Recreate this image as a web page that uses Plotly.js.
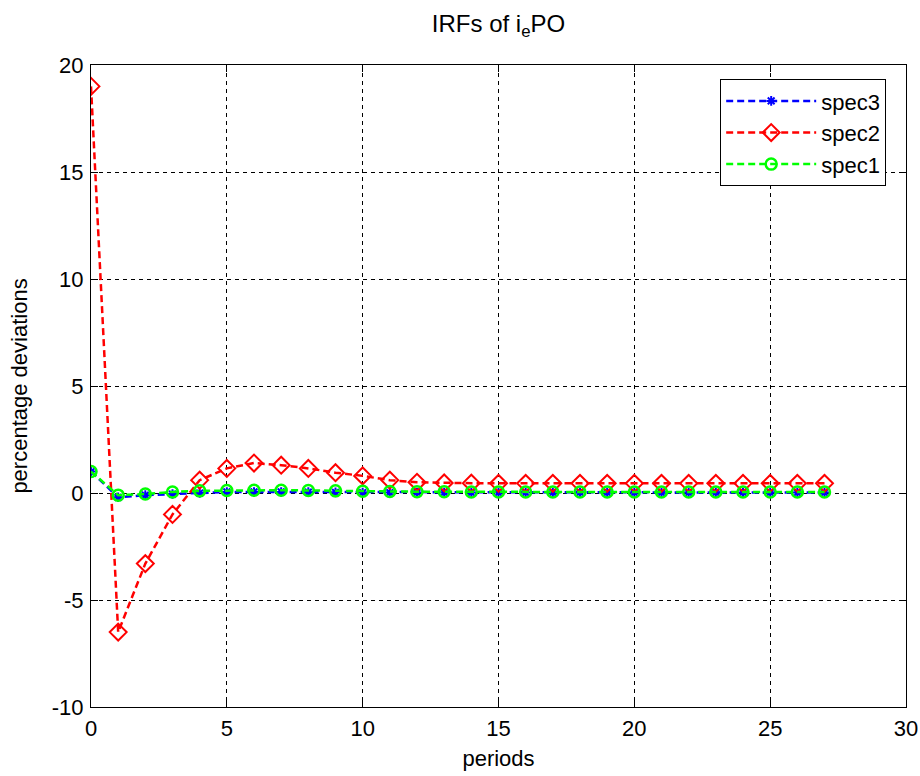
<!DOCTYPE html>
<html>
<head>
<meta charset="utf-8">
<script src="https://cdn.plot.ly/plotly-3.0.1.min.js"></script>
<style>html,body{margin:0;padding:0;background:#fff;}</style>
</head>
<body>
<div id="chart" style="width:920px;height:776px;"></div>
<script>
const periods = [0,1,2,3,4,5,6,7,8,9,10,11,12,13,14,15,16,17,18,19,20,21,22,23,24,25,26,27];
const spec3 = [1.0,-0.2,-0.1,-0.05,0.0,0.05,0.05,0.05,0.04,0.03,0.02,0.02,0.02,0.02,0.02,0.02,0.02,0.02,0.02,0.02,0.02,0.02,0.02,0.02,0.02,0.02,0.02,0.02];
const spec2 = [19.0,-6.5,-3.3,-1.0,0.6,1.15,1.4,1.3,1.15,0.95,0.8,0.6,0.5,0.47,0.46,0.45,0.45,0.45,0.45,0.45,0.45,0.45,0.45,0.45,0.45,0.45,0.45,0.45];
const spec1 = [1.0,-0.1,-0.05,0.05,0.1,0.12,0.13,0.13,0.12,0.1,0.08,0.07,0.06,0.06,0.05,0.05,0.05,0.05,0.05,0.05,0.05,0.05,0.05,0.05,0.05,0.05,0.05,0.05];
const xTicks = [0,5,10,15,20,25,30];
const yTicks = [-10,-5,0,5,10,15,20];

const font = 'Liberation Sans, Arial, sans-serif';
const fs = 22;
const traces = [
  {x: periods, y: spec3, name: 'spec3', mode: 'lines+markers', type: 'scatter',
   line: {color: '#0000ff', width: 2.5, dash: '7px,4px'},
   marker: {symbol: 'asterisk-open', size: 8, color: '#0000ff', line: {color: '#0000ff', width: 2}}},
  {x: periods, y: spec2, name: 'spec2', mode: 'lines+markers', type: 'scatter',
   line: {color: '#ff0000', width: 2.5, dash: '7px,4px'},
   marker: {symbol: 'diamond-open', size: 13, color: '#ff0000', line: {color: '#ff0000', width: 2}}},
  {x: periods, y: spec1, name: 'spec1', mode: 'lines+markers', type: 'scatter',
   line: {color: '#00ff00', width: 2.5, dash: '7px,4px'},
   marker: {symbol: 'circle-open', size: 11, color: '#00ff00', line: {color: '#00ff00', width: 2.5}}}
];

const axisCommon = {
  showline: true, linecolor: '#000', linewidth: 1, mirror: 'ticks',
  ticks: 'inside', ticklen: 7, tickcolor: '#000',
  showgrid: true, gridcolor: '#000', gridwidth: 1, griddash: '4px,4px',
  zeroline: false, tickfont: {family: font, size: fs, color: '#000'}
};

const layout = {
  width: 920, height: 776,
  paper_bgcolor: '#fff', plot_bgcolor: '#fff',
  margin: {l: 91, r: 14, t: 65, b: 69},
  title: {text: 'IRFs of i<sub>e</sub>PO', font: {family: font, size: 24, color: '#000'},
    xref: 'paper', x: 0.5, xanchor: 'center', yref: 'container', y: 0.97, yanchor: 'middle'},
  xaxis: Object.assign({}, axisCommon, {range: [0, 30], tickvals: xTicks, ticktext: xTicks.map(String),
    ticklabelstandoff: 2,
    title: {text: 'periods', font: {family: font, size: fs, color: '#000'}, standoff: 10}}),
  yaxis: Object.assign({}, axisCommon, {range: [-10, 20], tickvals: yTicks, ticktext: yTicks.map(String),
    ticklabelstandoff: 2,
    title: {text: 'percentage deviations', font: {family: font, size: fs, color: '#000'}, standoff: 18}}),
  legend: {x: 0.772, y: 0.978, xanchor: 'left', yanchor: 'top', bgcolor: '#fff',
    bordercolor: '#000', borderwidth: 1, font: {family: font, size: fs, color: '#000'},
    itemwidth: 90, tracegroupgap: 0},
  showlegend: true
};

Plotly.newPlot('chart', traces, layout, {displayModeBar: false, staticPlot: true});
</script>
</body>
</html>
